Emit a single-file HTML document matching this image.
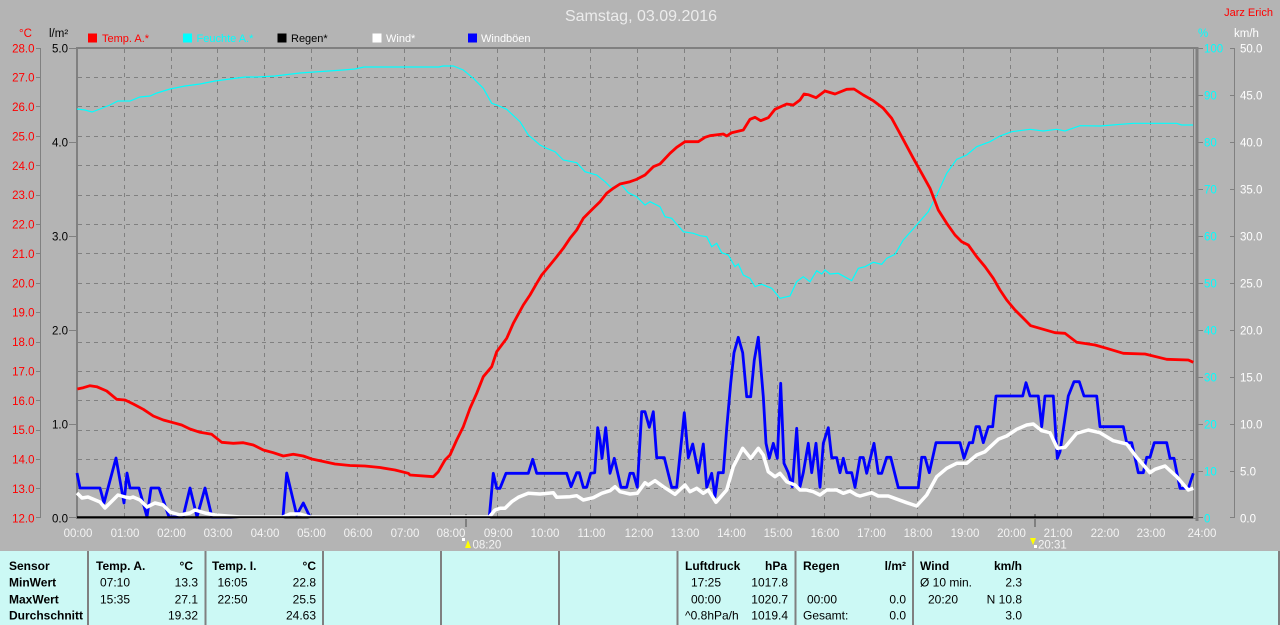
<!DOCTYPE html>
<html><head><meta charset="utf-8"><style>
html,body{margin:0;padding:0;background:#b4b4b4;}
svg{display:block;}
.ax{font-family:"Liberation Sans",sans-serif;font-size:11.5px;}
.tb{font-family:"Liberation Sans Narrow","Liberation Sans",sans-serif;font-size:12px;fill:#000;}
.b{font-weight:bold;}
</style></head><body>
<svg width="1280" height="625" viewBox="0 0 1280 625" xmlns="http://www.w3.org/2000/svg">
<rect x="0" y="0" width="1280" height="625" fill="#b4b4b4"/>

<!-- title -->
<text x="641" y="21" text-anchor="middle" font-family="Liberation Sans, sans-serif" font-size="16" fill="#ececec">Samstag, 03.09.2016</text>
<text x="1273" y="16" text-anchor="end" font-family="Liberation Sans, sans-serif" font-size="11" fill="#ff0000">Jarz Erich</text>

<!-- axis unit labels -->
<text x="19" y="37" class="ax" fill="#ff0000">°C</text>
<text x="49" y="37" class="ax" fill="#000">l/m²</text>
<text x="1198" y="37" class="ax" fill="#00ffff">%</text>
<text x="1234" y="37" class="ax" fill="#ffffff">km/h</text>

<!-- legend -->
<g font-family="Liberation Sans, sans-serif" font-size="11">
<rect x="88" y="33.5" width="9" height="9" fill="#ff0000"/><text x="102" y="42" fill="#ff0000">Temp. A.*</text>
<rect x="183" y="33.5" width="9" height="9" fill="#00ffff"/><text x="196.5" y="42" fill="#00ffff">Feuchte A.*</text>
<rect x="277.5" y="33.5" width="9" height="9" fill="#000"/><text x="291" y="42" fill="#000">Regen*</text>
<rect x="372.5" y="33.5" width="9" height="9" fill="#fff"/><text x="386" y="42" fill="#fff">Wind*</text>
<rect x="468" y="33.5" width="9" height="9" fill="#0000ff"/><text x="481" y="42" fill="#fff">Windböen</text>
</g>

<!-- grid -->
<g stroke="#808080" stroke-width="1" stroke-dasharray="4 4" fill="none">
<path d="M78 77.5H1193M78 106.5H1193M78 136.5H1193M78 165.5H1193M78 195.5H1193M78 224.5H1193M78 253.5H1193M78 283.5H1193M78 312.5H1193M78 342.5H1193M78 371.5H1193M78 400.5H1193M78 430.5H1193M78 459.5H1193M78 488.5H1193"/>
<path d="M124.5 49V517M171.5 49V517M217.5 49V517M264.5 49V517M311.5 49V517M357.5 49V517M404.5 49V517M450.5 49V517M497.5 49V517M544.5 49V517M590.5 49V517M637.5 49V517M684.5 49V517M730.5 49V517M777.5 49V517M824.5 49V517M870.5 49V517M917.5 49V517M963.5 49V517M1010.5 49V517M1057.5 49V517M1103.5 49V517M1150.5 49V517"/>
</g>

<!-- plot frame -->
<g stroke="#808080" fill="none">
<line x1="77" y1="47" x2="77" y2="519" stroke-width="2"/>
<line x1="76" y1="48" x2="1198" y2="48" stroke-width="2"/>
<line x1="1197" y1="47" x2="1197" y2="521" stroke-width="3"/>
<line x1="1193.5" y1="48" x2="1193.5" y2="518" stroke-width="1"/>
<line x1="77" y1="518.5" x2="1197" y2="518.5" stroke-width="1"/>
<!-- left °C axis -->
<line x1="40.5" y1="48" x2="40.5" y2="518" stroke-width="1"/>
<path stroke-width="1" d="M36 48.5H41M36 77.5H41M36 106.5H41M36 136.5H41M36 165.5H41M36 195.5H41M36 224.5H41M36 253.5H41M36 283.5H41M36 312.5H41M36 342.5H41M36 371.5H41M36 400.5H41M36 430.5H41M36 459.5H41M36 488.5H41M36 517.5H41"/>
<!-- l/m2 ticks -->
<path stroke-width="1" d="M69 48.5H77M69 142.5H77M69 236.5H77M69 330.5H77M69 424.5H77M69 517.5H77"/>
<!-- % ticks -->
<path stroke-width="1" d="M1198 48.5H1203M1198 95.5H1203M1198 142.5H1203M1198 189.5H1203M1198 236.5H1203M1198 283.5H1203M1198 330.5H1203M1198 377.5H1203M1198 424.5H1203M1198 471.5H1203M1198 517.5H1203"/>
<!-- km/h axis -->
<line x1="1234.5" y1="48" x2="1234.5" y2="518" stroke-width="1"/>
<path stroke-width="1" d="M1230 48.5H1235M1230 95.5H1235M1230 142.5H1235M1230 189.5H1235M1230 236.5H1235M1230 283.5H1235M1230 330.5H1235M1230 377.5H1235M1230 424.5H1235M1230 471.5H1235M1230 517.5H1235"/>
<!-- sunrise/sunset ticks -->
<line x1="466" y1="514" x2="466" y2="527" stroke-width="2"/>
<line x1="1035" y1="514" x2="1035" y2="527" stroke-width="2"/>
</g>

<!-- °C labels -->
<g class="ax" fill="#ff0000" text-anchor="end">
<text x="34.5" y="52.3">28.0</text><text x="34.5" y="81.7">27.0</text><text x="34.5" y="111">26.0</text><text x="34.5" y="140.4">25.0</text><text x="34.5" y="169.8">24.0</text><text x="34.5" y="199.2">23.0</text><text x="34.5" y="228.5">22.0</text><text x="34.5" y="257.9">21.0</text><text x="34.5" y="287.3">20.0</text><text x="34.5" y="316.7">19.0</text><text x="34.5" y="346">18.0</text><text x="34.5" y="375.4">17.0</text><text x="34.5" y="404.8">16.0</text><text x="34.5" y="434.2">15.0</text><text x="34.5" y="463.5">14.0</text><text x="34.5" y="492.9">13.0</text><text x="34.5" y="522.3">12.0</text>
</g>
<!-- l/m2 labels -->
<g class="ax" fill="#000" text-anchor="end">
<text x="68" y="52.3">5.0</text><text x="68" y="146.3">4.0</text><text x="68" y="240.3">3.0</text><text x="68" y="334.3">2.0</text><text x="68" y="428.3">1.0</text><text x="68" y="522.3">0.0</text>
</g>
<!-- % labels -->
<g class="ax" fill="#00ffff">
<text x="1204" y="52.3">100</text><text x="1204" y="99.3">90</text><text x="1204" y="146.3">80</text><text x="1204" y="193.3">70</text><text x="1204" y="240.3">60</text><text x="1204" y="287.3">50</text><text x="1204" y="334.3">40</text><text x="1204" y="381.3">30</text><text x="1204" y="428.3">20</text><text x="1204" y="475.3">10</text><text x="1204" y="522.3">0</text>
</g>
<!-- km/h labels -->
<g class="ax" fill="#ffffff">
<text x="1240" y="52.3">50.0</text><text x="1240" y="99.3">45.0</text><text x="1240" y="146.3">40.0</text><text x="1240" y="193.3">35.0</text><text x="1240" y="240.3">30.0</text><text x="1240" y="287.3">25.0</text><text x="1240" y="334.3">20.0</text><text x="1240" y="381.3">15.0</text><text x="1240" y="428.3">10.0</text><text x="1240" y="475.3">5.0</text><text x="1240" y="522.3">0.0</text>
</g>

<!-- time labels -->
<g class="ax" fill="#f4f4f4" text-anchor="middle" font-size="11">
<text x="78" y="537">00:00</text><text x="125" y="537">01:00</text><text x="171.5" y="537">02:00</text><text x="218" y="537">03:00</text><text x="265" y="537">04:00</text><text x="311.5" y="537">05:00</text><text x="358" y="537">06:00</text><text x="405" y="537">07:00</text><text x="451" y="537">08:00</text><text x="498.3" y="537">09:00</text><text x="545" y="537">10:00</text><text x="591.5" y="537">11:00</text><text x="639" y="537">12:00</text><text x="685" y="537">13:00</text><text x="731.5" y="537">14:00</text><text x="778" y="537">15:00</text><text x="825" y="537">16:00</text><text x="871.5" y="537">17:00</text><text x="918" y="537">18:00</text><text x="965" y="537">19:00</text><text x="1011.5" y="537">20:00</text><text x="1058" y="537">21:00</text><text x="1105" y="537">22:00</text><text x="1151" y="537">23:00</text><text x="1202" y="537">24:00</text>
</g>

<!-- sunrise / sunset markers -->
<g>
<rect x="462" y="538" width="3" height="3" fill="#ffffff"/>
<polygon points="468,540 471,548 465,548" fill="#ffff00"/>
<text x="472.5" y="548.3" class="ax" font-size="11" fill="#f4f4f4">08:20</text>
<polygon points="1030,538 1036,538 1033,545" fill="#ffff00"/>
<rect x="1034" y="545" width="3" height="3" fill="#ffffff"/>
<text x="1038" y="548.3" class="ax" font-size="11" fill="#f4f4f4">20:31</text>
</g>

<!-- humidity (cyan) -->
<polyline fill="none" stroke="#00ffff" stroke-width="1.2" points="77,109 85,110 92,112 100,109 110,105 118,101 130,101 140,97 150,96 157,93 170,89 185,86 200,84 215,81 230,79 245,77 257,77 275,76 300,73 343,70 355,69 364,67 439,67 443,66 453.3,66 463.3,70 473.3,78.3 483.3,88.3 491.7,103.3 496.7,105 506.7,109.3 520,121.7 528.3,135 540,145 546.7,148.3 555,151.7 563.3,160 576.7,162.7 585,171.7 596.7,175 605,181.7 611.7,188.3 620,183.3 628.3,192.7 636.7,196.7 645,205 650,201.7 660,206.7 665,216.7 671.7,218.3 683.3,231.7 693.3,233.3 700,235.7 706.7,236.7 711.7,246.7 716.7,243.3 721.7,252.7 728.3,255 735,266.7 738.3,264 743.3,275 750,278.3 755,286.7 761.7,284.3 771.7,288.3 780,298.3 790,296 796.7,281.7 803.3,276.7 810,281.7 816.7,270.7 821.7,274 825,270 830,274 838.3,273.3 851.7,280.7 858.3,268.3 865,266.7 873.3,262.3 881.7,264.3 886.7,258.3 895,254.3 903.3,240 916.7,225 928.3,211.7 938.3,191.7 946.7,173.3 956.7,159.3 966.7,155 976.7,146.7 990,141.7 1000,136 1011.7,131.7 1030,129.3 1043.3,131 1056.7,129.3 1065,131 1080,125.7 1100,126 1133.3,123.3 1176.7,123.3 1181.7,125 1193,125"/>

<!-- gusts (blue) -->
<polyline fill="none" stroke="#0000ff" stroke-width="2.8" stroke-linejoin="round" points="77,473 80,488 100,488 104,503 116,458 124,503 127,473 130,488 139,488 147,517 151,488 159,488 169,517 183,517 190,488 197,517 205,488 212,517 283,517 286.7,473 296.7,515 303.3,503 310,517 489.3,517 493.3,473.3 496.7,488.3 500,488.3 506,473.3 528.3,473.3 532.7,459.3 536.7,473.3 566.7,473.3 571,486.7 576.7,472.7 579.3,472.7 583.3,487.3 586.7,487.3 590.7,473.3 594.7,472.7 597.7,427.7 600,440 602,458.3 605.7,427.7 610,473.3 614.3,458.3 621,487.3 626.7,487.3 630,473.3 633.3,473.3 637.3,487.3 641.7,411.7 645,411.7 649.3,427.3 653.3,411.7 656.7,457.7 664.3,457.7 671.7,487.3 676.7,487.3 684.3,412.7 688.3,457.7 692.7,444 698.3,472.7 703.3,444 706.7,487.3 711.7,473.3 715,496.7 718.3,472.7 723.3,472.7 726.7,428.3 730.7,383.3 734,352.7 738.3,337.3 742.7,352.7 746.7,396.7 750.7,396.7 754.3,360 758.3,337.3 763.3,396.7 766,443.3 769.3,458.3 773.3,443.3 777.3,458.3 780.7,383.3 784,463.3 788.3,472.7 792.3,486.7 796.7,428.3 800,486.7 803.3,472.7 808.3,443.3 811.7,472.7 816,443.3 820,487.3 823.3,443.3 828.3,427.7 831.7,457.7 836.7,457.7 840,472.7 843.3,458.3 846.7,472.7 851.7,472.7 855,487.3 860,457.5 863.3,457.5 866.7,473.3 874,443.3 878.3,473.3 881.7,473.3 886.7,457.3 890.7,457.3 898.3,487.7 918.3,487.7 921.7,457.3 925,457.3 929.3,472.7 936,442.7 960,442.7 964,458.3 969.3,442.7 972.7,442.7 976,426.7 979.3,426.7 983.3,442.7 988.3,426.7 992.7,426.7 996,396 1022.7,396 1026,382.7 1030,396 1038.3,396 1041.7,426.7 1045,396 1053.3,396 1057.3,458.3 1060,451.7 1068.3,396 1074,381.7 1079.3,381.7 1084,396 1096.7,396 1100,426.7 1123.3,426.7 1126.7,442.7 1131.7,442.7 1138.3,472.7 1143.3,472.7 1146.7,457.3 1150,457.3 1154.3,442.7 1166.7,442.7 1170,458.3 1174,458.3 1180,488.3 1188.3,488.3 1193.3,473.3"/>

<!-- wind (white) -->
<polyline fill="none" stroke="#ffffff" stroke-width="3.5" stroke-linejoin="round" points="77,493 82,498 88,497 100,502 105,508 110,503 118,495 125,497 130,498 133,497 140,500 147,507 155,503 163,505 170,512 180,515 190,513 195,510 205,513 215,515 240,517 283,517 290,514 300,514 310,517 489.3,517 495,510 500,508.3 505,508.3 511.7,501.7 518.3,497.3 528.3,493.3 540,494 553.3,492.7 556.7,497.3 570,496.7 576.7,495.7 583.3,500 593.3,497.7 601.7,493.3 610,490.7 615,486.7 620,491.7 630,494 637.3,493.3 645,482.7 648.3,485 655,480.7 663.3,486.7 675,494.3 685,485 690,491.7 696.7,488.3 703.3,493.3 708.3,490 716,502.3 726.7,490 733.3,466.7 742.7,448.3 750.7,458.3 758.3,448.3 763.3,455 768.3,471.7 775,476.7 780,473.3 786.7,481.7 795,485 800,490 806.7,490 813.3,491.7 820,495 826.7,490 836.7,490 843.3,493.3 850,491 856.7,495 860,496 871.7,492.7 878.3,496 888.3,496 906.7,502.7 916.7,506 926.7,495 936.7,476.7 946.7,468.3 956.7,463.3 966.7,463.3 976.7,455 985,451.7 998.3,439.3 1006.7,436 1016.7,429.3 1026.7,425 1033.3,424 1041.7,430.7 1050,432.7 1057.3,448.3 1065,447.3 1076.7,433.3 1088.3,430 1100,432.7 1113.3,440.7 1126.7,444 1136.7,457.3 1150,472.7 1155,469.3 1165,466 1176.7,476.7 1188.3,490 1193.3,488.3"/>

<!-- rain (black baseline) -->
<line x1="77" y1="517.3" x2="1193" y2="517.3" stroke="#000" stroke-width="2"/>

<!-- temperature (red) -->
<polyline fill="none" stroke="#ff0000" stroke-width="2.8" stroke-linejoin="round" points="77.3,389 83.3,387.7 90,385.7 96.7,386.7 106.7,391 116.7,399.3 125,400 133.3,404 143.3,409.3 153.3,416 163.3,420 173.3,422.7 181.7,425 190,429 200,432.3 211.7,434.3 221.7,442.3 233.3,443.3 243.3,442.7 253.3,445 263.3,450 273.3,452.7 283.3,456 293.3,454.3 303.3,456 311.7,459 320,460.7 335,464 350,465.5 365,466 380,467.5 395,470 408.3,473.3 410,475 433.3,476.7 438.3,471.7 445,460 450,455 456.7,440 463.3,426.7 470,408.3 476.7,393.3 483.3,376.7 491.7,366.7 496.7,351.7 506.7,338.3 513.3,323.3 523.3,305 530,295 536.7,283.3 541.7,275 550,265 556.7,256.7 563.3,248.3 570,238.3 576.7,230 583.3,218.3 593.3,208.3 600,201.7 606.7,193.3 613.3,188.3 620,184 630,181.7 636.7,179.3 645,175 653.3,166.7 660,164 670,153.3 676.7,147.3 685,141.7 698.3,141.7 705,137.3 710,135.7 723.3,134 726.7,136 731.7,132.7 743.3,130 750,119.3 755,117.3 760.7,120.7 768.3,117.7 775,109.3 786.7,104 793.3,105 800,100 804,94 808.3,94.7 816,97.7 825,91 835,94 846.7,89.3 854,89 863.3,95 873.3,100.7 883.3,108.3 891.7,118.3 901.7,136.7 913.3,158.3 921.7,173.3 930,188.3 938.3,210 946.7,223.3 955,235 961.7,241.7 968.3,245 976.7,256.7 985,266.7 993.3,278.3 1000,290 1006.7,300 1015,310 1023.3,318.3 1030.7,325.7 1043.3,329.3 1055,332.7 1065,333.3 1076.7,342.3 1095,345 1106.7,348.3 1123.3,353.3 1145,354 1166.7,359.3 1188.3,360 1193.3,362.3"/>

<!-- bottom table -->
<rect x="0" y="551" width="1280" height="74" fill="#ccf9f5"/>
<g stroke="#808080" stroke-width="2">
<line x1="88" y1="551" x2="88" y2="625"/><line x1="205.5" y1="551" x2="205.5" y2="625"/><line x1="323" y1="551" x2="323" y2="625"/><line x1="441" y1="551" x2="441" y2="625"/><line x1="559" y1="551" x2="559" y2="625"/><line x1="677.5" y1="551" x2="677.5" y2="625"/><line x1="795.5" y1="551" x2="795.5" y2="625"/><line x1="913" y1="551" x2="913" y2="625"/><line x1="1279" y1="551" x2="1279" y2="625"/>
</g>
<g class="tb">
<text x="9" y="570" class="b">Sensor</text>
<text x="9" y="586.7" class="b">MinWert</text>
<text x="9" y="603.3" class="b">MaxWert</text>
<text x="9" y="619.3" class="b">Durchschnitt</text>

<text x="96" y="570" class="b">Temp. A.</text>
<text x="193" y="570" class="b" text-anchor="end">°C</text>
<text x="100" y="586.7">07:10</text><text x="198" y="586.7" text-anchor="end">13.3</text>
<text x="100" y="603.3">15:35</text><text x="198" y="603.3" text-anchor="end">27.1</text>
<text x="198" y="619.3" text-anchor="end">19.32</text>

<text x="212" y="570" class="b">Temp. I.</text>
<text x="316" y="570" class="b" text-anchor="end">°C</text>
<text x="217.5" y="586.7">16:05</text><text x="316" y="586.7" text-anchor="end">22.8</text>
<text x="217.5" y="603.3">22:50</text><text x="316" y="603.3" text-anchor="end">25.5</text>
<text x="316" y="619.3" text-anchor="end">24.63</text>

<text x="685" y="570" class="b">Luftdruck</text>
<text x="787" y="570" class="b" text-anchor="end">hPa</text>
<text x="691" y="586.7">17:25</text><text x="788" y="586.7" text-anchor="end">1017.8</text>
<text x="691" y="603.3">00:00</text><text x="788" y="603.3" text-anchor="end">1020.7</text>
<text x="685" y="619.3">^0.8hPa/h</text><text x="788" y="619.3" text-anchor="end">1019.4</text>

<text x="803" y="570" class="b">Regen</text>
<text x="906" y="570" class="b" text-anchor="end">l/m²</text>
<text x="807" y="603.3">00:00</text><text x="906" y="603.3" text-anchor="end">0.0</text>
<text x="803" y="619.3">Gesamt:</text><text x="906" y="619.3" text-anchor="end">0.0</text>

<text x="920" y="570" class="b">Wind</text>
<text x="1022" y="570" class="b" text-anchor="end">km/h</text>
<text x="920" y="586.7">Ø 10 min.</text><text x="1022" y="586.7" text-anchor="end">2.3</text>
<text x="928" y="603.3">20:20</text><text x="1022" y="603.3" text-anchor="end">N 10.8</text>
<text x="1022" y="619.3" text-anchor="end">3.0</text>
</g>
</svg>
</body></html>
